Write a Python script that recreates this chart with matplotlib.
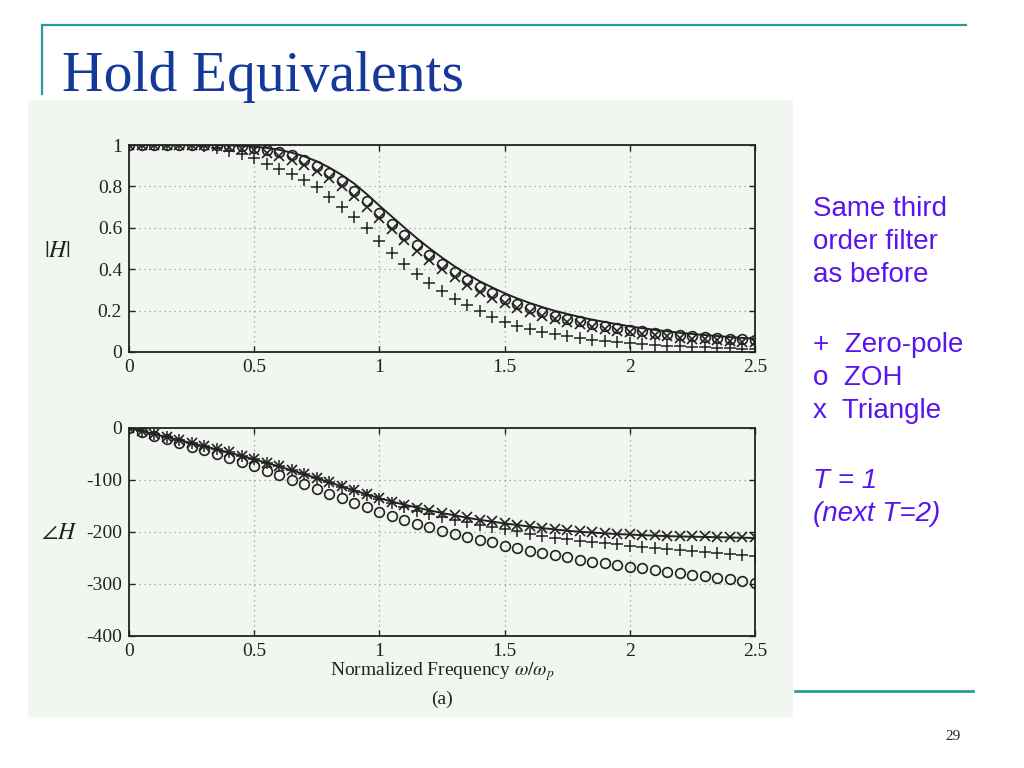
import numpy as np
import matplotlib
matplotlib.use("Agg")
import matplotlib.pyplot as plt
from matplotlib.patches import Rectangle
from matplotlib.lines import Line2D

# ---------------- data ----------------
freq = [0.0, 0.05, 0.1, 0.15, 0.2, 0.25, 0.3, 0.35, 0.4, 0.45,
        0.5, 0.55, 0.6, 0.65, 0.7, 0.75, 0.8, 0.85, 0.9, 0.95,
        1.0, 1.05, 1.1, 1.15, 1.2, 1.25, 1.3, 1.35, 1.4, 1.45,
        1.5, 1.55, 1.6, 1.65, 1.7, 1.75, 1.8, 1.85, 1.9, 1.95,
        2.0, 2.05, 2.1, 2.15, 2.2, 2.25, 2.3, 2.35, 2.4, 2.45, 2.5]

# magnitude |H|
mag_analog = [1, 1, 1, 1, 1, 1, 1, 0.999, 0.998, 0.996,
              0.992, 0.986, 0.977, 0.963, 0.945, 0.921, 0.891, 0.855, 0.813, 0.762,
              0.707, 0.654, 0.601, 0.549, 0.501, 0.456, 0.414, 0.377, 0.342, 0.312,
              0.284, 0.259, 0.237, 0.217, 0.199, 0.184, 0.169, 0.156, 0.145, 0.134,
              0.124, 0.115, 0.107, 0.100, 0.093, 0.087, 0.082, 0.077, 0.072, 0.068, 0.064]
mag_zeropole = [1, 1, 1, 1, 1, 0.998, 0.994, 0.985, 0.972, 0.955,
                0.935, 0.91, 0.885, 0.862, 0.83, 0.795, 0.75, 0.70, 0.65, 0.597,
                0.537, 0.48, 0.427, 0.379, 0.334, 0.295, 0.255, 0.226, 0.198, 0.169,
                0.145, 0.128, 0.113, 0.099, 0.087, 0.077, 0.068, 0.060, 0.053, 0.047,
                0.042, 0.037, 0.033, 0.030, 0.027, 0.024, 0.022, 0.020, 0.018, 0.016, 0.015]
mag_zoh = [1, 1, 1, 1, 1, 1, 1, 0.998, 0.996, 0.993,
           0.987, 0.978, 0.966, 0.95, 0.928, 0.90, 0.866, 0.826, 0.78, 0.728,
           0.673, 0.62, 0.567, 0.518, 0.47, 0.425, 0.385, 0.348, 0.315, 0.285,
           0.257, 0.233, 0.212, 0.193, 0.176, 0.161, 0.148, 0.136, 0.125, 0.116,
           0.107, 0.100, 0.093, 0.087, 0.082, 0.077, 0.072, 0.068, 0.065, 0.062, 0.059]
mag_triangle = [1, 1, 1, 1, 1, 1, 0.998, 0.995, 0.99, 0.983,
                0.975, 0.962, 0.947, 0.928, 0.905, 0.875, 0.84, 0.80, 0.755, 0.70,
                0.645, 0.592, 0.54, 0.49, 0.443, 0.40, 0.36, 0.325, 0.292, 0.262,
                0.236, 0.213, 0.193, 0.175, 0.16, 0.146, 0.133, 0.122, 0.112, 0.103,
                0.095, 0.088, 0.081, 0.075, 0.07, 0.065, 0.061, 0.057, 0.053, 0.05, 0.047]

# phase angle H (degrees)
ph_analog = [0, -5.7, -11.5, -17.3, -23.1, -29, -35, -41, -47.3, -53.7,
             -60.3, -67.1, -74.1, -81.4, -88.9, -96.6, -104.4, -112.3, -120.1, -127.7,
             -135, -141.5, -147.5, -153, -158.5, -163.5, -168, -172.5, -176.5, -180,
             -183.5, -186.5, -189.5, -192.5, -195, -197.5, -199.5, -201, -202.5, -204,
             -205, -206, -207, -208, -208.5, -209, -209.5, -210, -210.5, -211, -211.5]
ph_zeropole = [0, -6, -11.5, -17, -23, -29, -35, -41, -47, -53.5,
               -60, -67, -74, -81, -89, -96.5, -104, -112.5, -121, -129,
               -137, -145, -152, -159, -165, -171, -176, -181, -186, -190,
               -195, -199, -203, -207, -211, -214, -217, -219.5, -222, -224,
               -226, -228, -230, -232, -234, -236, -238, -240, -242, -244, -246]
ph_zoh = [0, -7.5, -15, -22, -29, -36, -43, -50, -57, -65,
          -73, -82, -91, -99.5, -108, -117, -126, -135, -144, -152.5,
          -161, -169, -177, -184, -191, -198, -204, -210, -215, -220,
          -226, -231, -236, -241, -245, -249, -253, -257, -260, -263,
          -267, -270, -273, -276, -279, -282, -285, -288, -291, -294, -298]
ph_triangle = [0, -6, -11.5, -17, -23, -29, -35, -41, -47, -53.5,
               -60, -67, -74, -81, -89, -96.5, -104, -112, -120, -127.5,
               -135, -142, -147.5, -153, -158, -163, -167.5, -172, -176, -179.5,
               -183, -186, -189, -192, -194.5, -197, -199, -200.5, -202, -203,
               -204.5, -205.5, -206.5, -207, -207.5, -208, -208.5, -209, -209.5, -210, -210.5]

x_ticks = [0, 0.5, 1, 1.5, 2, 2.5]
x_ticklabels = ["0", "0.5", "1", "1.5", "2", "2.5"]
mag_ticks = [0, 0.2, 0.4, 0.6, 0.8, 1]
mag_ticklabels = ["0", "0.2", "0.4", "0.6", "0.8", "1"]
ph_ticks = [-400, -300, -200, -100, 0]
ph_ticklabels = ["-400", "-300", "-200", "-100", "0"]

title = "Hold Equivalents"
side_text = ["Same third", "order filter", "as before"]
legend_text = ["+  Zero-pole", "o  ZOH", "x  Triangle"]
note_text = ["T = 1", "(next T=2)"]

# ---------------- figure ----------------
plt.rcParams['mathtext.fontset'] = 'stix'
W, H = 1024, 768
fig = plt.figure(figsize=(W / 100, H / 100), dpi=100)
fig.patch.set_facecolor('white')

def fx(px):
    return px / W

def fy(py):
    return 1 - py / H

teal = '#2a9a9c'
# decorative slide lines
fig.add_artist(Line2D([fx(42), fx(966)], [fy(25), fy(25)], color=teal, lw=1.6))
fig.add_artist(Line2D([fx(42), fx(42)], [fy(25), fy(94)], color=teal, lw=1.6))
fig.add_artist(Line2D([fx(795), fx(973)], [fy(691), fy(691)], color=teal, lw=2.0))

# scanned picture background
fig.add_artist(Rectangle((fx(28), fy(717)), fx(793) - fx(28), fy(100) - fy(717),
                         transform=fig.transFigure, facecolor='#f2f6f0',
                         edgecolor='none', zorder=0))

fig.text(fx(62), fy(91), title, fontsize=41.5, color='#15399b',
         family='Liberation Serif', ha='left', va='baseline')

blue = '#5a14ee'
for i, t in enumerate(side_text):
    fig.text(fx(813), fy(216 + 33 * i), t, fontsize=20, color=blue,
             family='Liberation Sans', ha='left', va='baseline')
for i, t in enumerate(legend_text):
    fig.text(fx(813), fy(352 + 33 * i), t, fontsize=20, color=blue,
             family='Liberation Sans', ha='left', va='baseline')
for i, t in enumerate(note_text):
    fig.text(fx(813), fy(488 + 33 * i), t, fontsize=20, color=blue,
             family='Liberation Sans', style='italic', ha='left', va='baseline')

fig.text(fx(953), fy(740), "29", fontsize=11, color='#222222',
         family='Liberation Serif', ha='center', va='baseline')

serif = 'Liberation Serif'
ink = '#222222'

def style_axes(ax):
    ax.set_facecolor('none')
    ax.grid(True, linestyle=(0, (1, 3)), color='#999999', lw=0.9)
    ax.tick_params(direction='in', length=4, width=1, top=True, right=True,
                   labelsize=14, colors=ink, pad=5)
    for s in ax.spines.values():
        s.set_color(ink)
        s.set_linewidth(1.3)
    for lab in ax.get_xticklabels() + ax.get_yticklabels():
        lab.set_family(serif)

ms_kw = dict(linestyle='none', color=ink)

# magnitude axes
ax1 = fig.add_axes([fx(129), fy(352), fx(755) - fx(129), fy(145) - fy(352)])
ax1.plot(freq, mag_analog, color=ink, lw=1.4, zorder=3)
ax1.plot(freq, mag_zeropole, marker='+', ms=8.5, mew=1.1, **ms_kw, zorder=4)
ax1.plot(freq, mag_zoh, marker='o', ms=7, mew=1.2, mfc='none', **ms_kw, zorder=4)
ax1.plot(freq, mag_triangle, marker='x', ms=7, mew=1.2, **ms_kw, zorder=4)
ax1.set_xlim(0, 2.5)
ax1.set_ylim(0, 1)
ax1.set_xticks(x_ticks)
ax1.set_xticklabels(x_ticklabels)
ax1.set_yticks(mag_ticks)
ax1.set_yticklabels(mag_ticklabels)
style_axes(ax1)
fig.text(fx(57), fy(250), r"$|H|$", fontsize=17, color=ink, ha='center', va='center')

# phase axes
ax2 = fig.add_axes([fx(129), fy(636), fx(755) - fx(129), fy(428) - fy(636)])
ax2.plot(freq, ph_analog, color=ink, lw=1.4, zorder=3)
ax2.plot(freq, ph_zeropole, marker='+', ms=8.5, mew=1.1, **ms_kw, zorder=4)
ax2.plot(freq, ph_zoh, marker='o', ms=7, mew=1.2, mfc='none', **ms_kw, zorder=4)
ax2.plot(freq, ph_triangle, marker='x', ms=7, mew=1.2, **ms_kw, zorder=4)
ax2.set_xlim(0, 2.5)
ax2.set_ylim(-400, 0)
ax2.set_xticks(x_ticks)
ax2.set_xticklabels(x_ticklabels)
ax2.set_yticks(ph_ticks)
ax2.set_yticklabels(ph_ticklabels)
style_axes(ax2)
fig.text(fx(59), fy(532), r"$\angle H$", fontsize=17, color=ink, ha='center', va='center')

fig.text(fx(442), fy(672), r"Normalized Frequency $\omega/\omega_p$", fontsize=14,
         color=ink, family=serif, ha='center', va='center')
fig.text(fx(442), fy(699), "(a)", fontsize=14, color=ink, family=serif,
         ha='center', va='center')

fig.savefig("out.png", dpi=100)
